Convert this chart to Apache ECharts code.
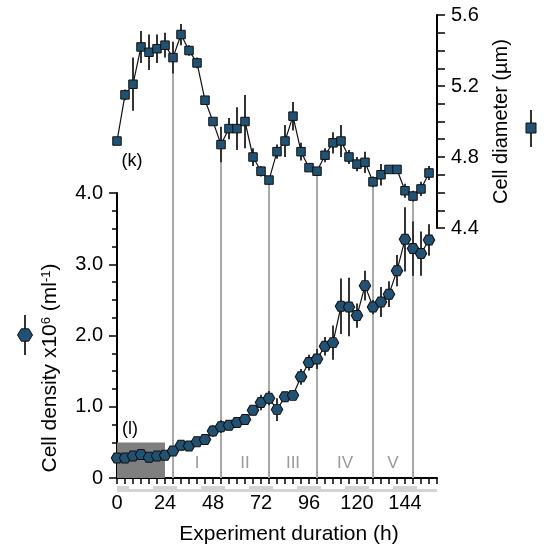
<!DOCTYPE html>
<html>
<head>
<meta charset="utf-8">
<script src="https://cdn.jsdelivr.net/npm/echarts@6/dist/echarts.min.js"></script>
<style>
  html, body { margin: 0; padding: 0; background: #fff; }
  #chart { width: 557px; height: 554px; }
</style>
</head>
<body>
<div id="chart"></div>
<script>
// Sampling times (h)
const hours = [0, 4, 8, 12, 16, 20, 24, 28, 32, 36, 40, 44, 48, 52, 56, 60, 64, 68, 72, 76,
               80, 84, 88, 92, 96, 100, 104, 108, 112, 116, 120, 124, 128, 132, 136, 140, 144, 148, 152, 156];

// Cell density x10^6 per ml, mean and error
const density = [0.28, 0.28, 0.31, 0.33, 0.29, 0.31, 0.32, 0.38, 0.46, 0.45,
                 0.51, 0.54, 0.66, 0.72, 0.74, 0.78, 0.82, 0.95, 1.06, 1.12,
                 0.96, 1.14, 1.16, 1.42, 1.62, 1.67, 1.85, 1.90, 2.41, 2.40,
                 2.28, 2.70, 2.40, 2.47, 2.58, 2.91, 3.35, 3.22, 3.15, 3.34];
const densityErr = [0.03, 0.03, 0.03, 0.03, 0.03, 0.03, 0.03, 0.07, 0.07, 0.05,
                    0.06, 0.05, 0.08, 0.09, 0.07, 0.05, 0.05, 0.07, 0.11, 0.10,
                    0.16, 0.07, 0.07, 0.11, 0.11, 0.14, 0.13, 0.24, 0.39, 0.41,
                    0.17, 0.21, 0.10, 0.21, 0.18, 0.22, 0.45, 0.38, 0.31, 0.22];

// Cell diameter (µm), mean and error
const diameter = [4.89, 5.15, 5.21, 5.42, 5.39, 5.41, 5.43, 5.36, 5.49, 5.40,
                  5.33, 5.12, 5.00, 4.87, 4.96, 4.96, 5.00, 4.80, 4.72, 4.67,
                  4.83, 4.89, 5.03, 4.83, 4.74, 4.72, 4.81, 4.88, 4.89, 4.80,
                  4.76, 4.77, 4.66, 4.70, 4.73, 4.73, 4.61, 4.58, 4.62, 4.71];
const diameterErr = [0.02, 0.03, 0.15, 0.09, 0.10, 0.08, 0.07, 0.09, 0.06, 0.03,
                     0.03, 0.02, 0.02, 0.10, 0.06, 0.12, 0.15, 0.05, 0.03, 0.02,
                     0.04, 0.09, 0.08, 0.05, 0.02, 0.02, 0.04, 0.06, 0.09, 0.04,
                     0.04, 0.06, 0.03, 0.06, 0.02, 0.02, 0.04, 0.03, 0.04, 0.04];

// Phase boundaries (h) and the phase names placed between them
const phaseBoundaries = [28, 52, 76, 100, 128, 148];
const phaseNames = ['I', 'II', 'III', 'IV', 'V'];
const phaseLabelLevel = 0.2;

// Dark periods of the light cycle (h)
const darkPeriods = [[0, 6], [18, 30], [42, 54], [66, 78], [90, 102], [114, 126], [138, 150]];

// Initial shaded block: [start h, end h, density]
const initialBlock = [0, 24, 0.5];

// Axis ranges and ticks
const hourRange = [0, 160];
const hourStep = 4;
const hourLabelStep = 24;
const hourLastLabel = 144;
const densityRange = [0, 4];
const diameterRange = [4.4, 5.6];
const diameterLabelStep = 0.4;

const FONT = '"Liberation Sans", Arial, sans-serif';
const FILL = '#215273';
const EDGE = '#111';
const hexagon = 'path://M0,4.33L2.5,0L7.5,0L10,4.33L7.5,8.66L2.5,8.66Z';

const chart = echarts.init(document.getElementById('chart'), null, { renderer: 'canvas' });

function errorBars(xi, yi, values, errs) {
  return {
    type: 'custom',
    xAxisIndex: xi, yAxisIndex: yi,
    z: 3, silent: true, animation: false,
    data: hours.map((h, i) => [h, values[i], errs[i]]),
    encode: { x: 0, y: 1 },
    renderItem(params, api) {
      const x = api.value(0), v = api.value(1), e = api.value(2);
      const a = api.coord([x, v - e]), b = api.coord([x, v + e]);
      return {
        type: 'line',
        shape: { x1: a[0], y1: a[1], x2: b[0], y2: b[1] },
        style: { stroke: '#333', lineWidth: 2 }
      };
    }
  };
}

const axisLineStyle = { color: '#000', width: 2 };
const labelStyle = { color: '#000', fontSize: 20, fontFamily: FONT };

const option = {
  animation: false,
  backgroundColor: '#fff',
  grid: [
    { left: 117, right: 120, top: 193, bottom: 76 },
    { left: 117, right: 120, top: 15, bottom: 326 }
  ],
  xAxis: [
    {
      gridIndex: 0, type: 'value', min: hourRange[0], max: hourRange[1], interval: hourStep,
      axisLine: { onZero: false, lineStyle: axisLineStyle },
      axisTick: { length: 6, lineStyle: { color: '#000', width: 1.5 } },
      axisLabel: Object.assign({
        margin: 15,
        formatter: v => (v % hourLabelStep === 0 && v <= hourLastLabel ? String(v) : '')
      }, labelStyle),
      splitLine: { show: false }
    },
    {
      gridIndex: 1, type: 'value', min: hourRange[0], max: hourRange[1], show: false
    }
  ],
  yAxis: [
    {
      gridIndex: 0, type: 'value', min: densityRange[0], max: densityRange[1], interval: 1,
      axisLine: { show: true, onZero: false, lineStyle: axisLineStyle },
      axisTick: { show: true, length: 8, lineStyle: { color: '#000', width: 1.5 } },
      minorTick: { show: true, splitNumber: 4, length: 5, lineStyle: { color: '#000', width: 1.5 } },
      axisLabel: Object.assign({
        margin: 14,
        formatter: v => (v === 0 ? '0' : v.toFixed(1))
      }, labelStyle),
      splitLine: { show: false }
    },
    {
      gridIndex: 1, type: 'value', position: 'right',
      min: diameterRange[0], max: diameterRange[1], interval: diameterLabelStep,
      axisLine: { show: true, onZero: false, lineStyle: axisLineStyle },
      axisTick: { show: true, length: 8, lineStyle: { color: '#000', width: 1.5 } },
      minorTick: { show: true, splitNumber: 4, length: 8, lineStyle: { color: '#000', width: 1.5 } },
      axisLabel: Object.assign({ margin: 14, formatter: v => v.toFixed(1) }, labelStyle),
      splitLine: { show: false },
      name: 'Cell diameter (µm)', nameLocation: 'middle', nameRotate: 90, nameGap: 54,
      nameTextStyle: { color: '#000', fontSize: 20, fontFamily: FONT }
    }
  ],
  series: [
    {
      // shaded initial block
      type: 'custom', xAxisIndex: 0, yAxisIndex: 0, z: 1, silent: true,
      data: [initialBlock],
      renderItem(params, api) {
        const a = api.coord([api.value(0), api.value(2)]);
        const b = api.coord([api.value(1), 0]);
        return {
          type: 'rect',
          shape: { x: a[0], y: a[1], width: b[0] - a[0], height: b[1] - a[1] },
          style: { fill: '#7f7f7f' }
        };
      }
    },
    {
      // light-cycle strip below the time axis
      type: 'custom', xAxisIndex: 0, yAxisIndex: 0, z: 1, silent: true,
      data: [[hourRange[0], hourRange[1], 0]].concat(darkPeriods.map(p => [p[0], p[1], 1])),
      renderItem(params, api) {
        const a = api.coord([api.value(0), 0]);
        const b = api.coord([api.value(1), 0]);
        const dark = api.value(2) === 1;
        return {
          type: 'rect',
          shape: { x: a[0], y: a[1] + (dark ? 8 : 11), width: b[0] - a[0], height: dark ? 6 : 3 },
          style: { fill: '#d4d4d4' }
        };
      }
    },
    {
      // phase names
      type: 'custom', xAxisIndex: 0, yAxisIndex: 0, z: 2, silent: true,
      data: phaseNames.map((n, i) => [(phaseBoundaries[i] + phaseBoundaries[i + 1]) / 2, phaseLabelLevel, i]),
      renderItem(params, api) {
        const p = api.coord([api.value(0), api.value(1)]);
        return {
          type: 'text',
          style: {
            x: p[0], y: p[1], text: phaseNames[api.value(2)],
            fill: '#9a9a9a', font: '17px ' + FONT, align: 'center', verticalAlign: 'middle'
          }
        };
      }
    },
    errorBars(0, 0, density, densityErr),
    {
      type: 'line', xAxisIndex: 0, yAxisIndex: 0, z: 4, silent: true,
      data: hours.map((h, i) => [h, density[i]]),
      symbol: hexagon, symbolSize: [11.5, 10], showAllSymbol: true,
      itemStyle: { color: FILL, borderColor: EDGE, borderWidth: 1 },
      lineStyle: { color: EDGE, width: 1.2 }
    },
    errorBars(1, 1, diameter, diameterErr),
    {
      type: 'line', xAxisIndex: 1, yAxisIndex: 1, z: 4, silent: true,
      data: hours.map((h, i) => [h, diameter[i]]),
      symbol: 'rect', symbolSize: 8.5, showAllSymbol: true,
      itemStyle: { color: FILL, borderColor: EDGE, borderWidth: 1 },
      lineStyle: { color: EDGE, width: 1.2 }
    }
  ]
};

chart.setOption(option);

// Phase divider lines run from the diameter point down to the time axis
const graphics = phaseBoundaries.map(h => {
  const idx = hours.indexOf(h);
  const top = chart.convertToPixel({ xAxisIndex: 1, yAxisIndex: 1 }, [h, diameter[idx]]);
  const bottom = chart.convertToPixel({ xAxisIndex: 0, yAxisIndex: 0 }, [h, 0]);
  return {
    type: 'line', z: 1, silent: true,
    shape: { x1: top[0], y1: top[1], x2: bottom[0], y2: bottom[1] },
    style: { stroke: '#a9a9a9', lineWidth: 2 }
  };
});

// Axis titles for the time and density axes
graphics.push(
  { type: 'text', z: 5, x: 289, y: 534,
    style: { text: 'Experiment duration (h)', font: '21px ' + FONT, fill: '#000', align: 'center', verticalAlign: 'middle' } },
  { type: 'text', z: 5, x: 50, y: 368, rotation: Math.PI / 2,
    style: {
      text: '{a|Cell density x10}{s|6}{a| (ml}{s|-1}{a|)}',
      align: 'center', verticalAlign: 'middle',
      rich: {
        a: { fontSize: 21, fontFamily: FONT, fill: '#000' },
        s: { fontSize: 13, fontFamily: FONT, fill: '#000', verticalAlign: 'top' }
      }
    } }
);

// Panel letters
graphics.push(
  { type: 'text', z: 5, style: { x: 132, y: 161, text: '(k)', font: '18px ' + FONT, fill: '#000', align: 'center', verticalAlign: 'middle' } },
  { type: 'text', z: 5, style: { x: 130, y: 429, text: '(l)', font: '18px ' + FONT, fill: '#000', align: 'center', verticalAlign: 'middle' } }
);

// Series keys beside the axis titles
graphics.push(
  { type: 'line', z: 5, shape: { x1: 25, y1: 315, x2: 25, y2: 355 }, style: { stroke: '#333', lineWidth: 2 } },
  { type: 'polygon', z: 6,
    shape: { points: [[17.5, 335], [21.25, 328.8], [28.75, 328.8], [32.5, 335], [28.75, 341.2], [21.25, 341.2]] },
    style: { fill: FILL, stroke: EDGE, lineWidth: 1 } },
  { type: 'line', z: 5, shape: { x1: 531, y1: 110, x2: 531, y2: 147 }, style: { stroke: '#333', lineWidth: 2 } },
  { type: 'rect', z: 6, shape: { x: 526, y: 123, width: 10, height: 10 }, style: { fill: FILL, stroke: EDGE, lineWidth: 1 } }
);

chart.setOption({ graphic: graphics });
</script>
</body>
</html>
